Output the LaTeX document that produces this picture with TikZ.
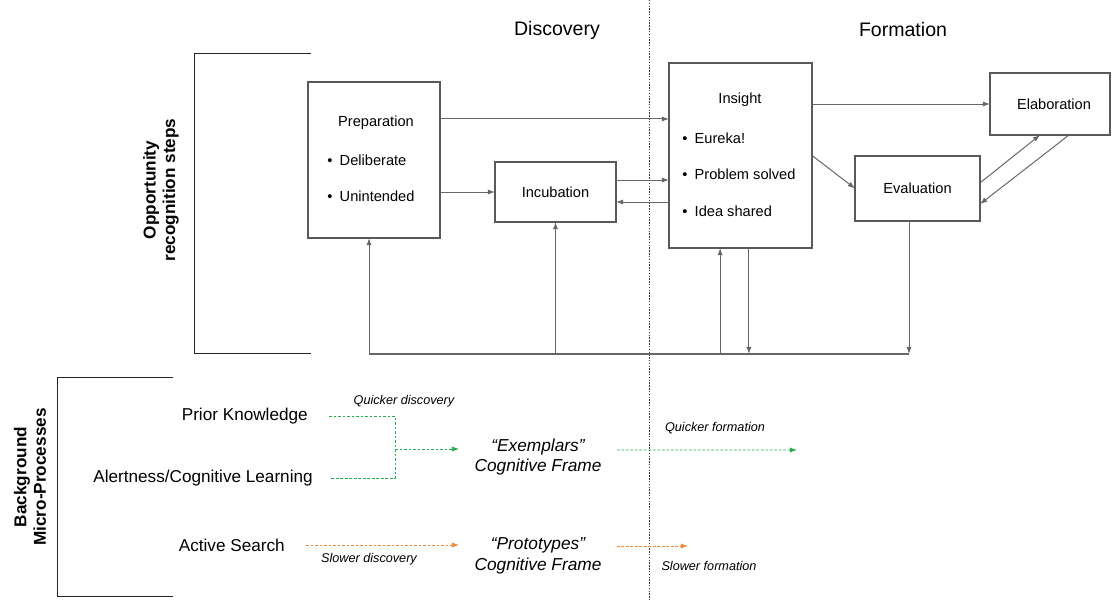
\documentclass[tikz,border=0pt]{standalone}
\usepackage{fontspec}
\setmainfont{Liberation Sans}
\usetikzlibrary{arrows.meta,positioning}

\definecolor{quickgreen}{HTML}{22B04B}
\definecolor{sloworange}{HTML}{F0883A}

\tikzset{
    stepbox/.style={draw=black!65, line width=1pt, rectangle, inner sep=0pt, outer sep=0pt},
    boxtext/.style={font=\fontsize{10.4}{12}\selectfont, inner sep=0pt},
    flow/.style={draw=black!60, line width=0.7pt, -{Latex[length=1.8mm,width=1.3mm]}},
    micro/.style={font=\fontsize{12.2}{14}\selectfont, inner sep=0pt},
    speed/.style={font=\fontsize{9}{11}\selectfont\itshape, inner sep=0pt},
    frame/.style={font=\fontsize{12.3}{14.5}\selectfont\itshape, align=center, inner xsep=0.38cm, inner ysep=0pt},
    quick/.style={draw=quickgreen, line width=0.6pt, dash pattern=on 2pt off 1.2pt},
    slow/.style={draw=sloworange, line width=0.6pt, dash pattern=on 2pt off 1.2pt},
    tip/.style={-{Latex[length=1.8mm,width=1.3mm]}}
}

\begin{document}
\begin{tikzpicture}[x=0.025cm, y=-0.025cm]

    \useasboundingbox (0,0) rectangle (1112,602);

    % divider between the two phases
    \draw[black!80, line width=0.6pt, dash pattern=on 1pt off 1pt] (649,0) -- (649,602);
    \node[font=\fontsize{13.9}{16}\selectfont] (disc) at (557,30) {Discovery};
    \node[font=\fontsize{13.9}{16}\selectfont] (form) at (903,30) {Formation};

    % brackets
    \draw[black!85, line width=0.6pt] (311,53) -- (194,53) -- (194,353) -- (311,353);
    \draw[black!85, line width=0.6pt] (173,377) -- (57,377) -- (57,596) -- (173,596);
    \node[rotate=90, align=center, font=\fontsize{12.2}{14}\selectfont\bfseries] (steps) at (161,190)
        {Opportunity\\recognition steps};
    \node[rotate=90, align=center, font=\fontsize{12.2}{14}\selectfont\bfseries] (bg) at (30,477)
        {Background\\Micro-Processes};

    % opportunity recognition steps
    \node[stepbox, minimum width=3.3cm, minimum height=3.9cm] (prep) at (374,160) {};
    \node[stepbox, minimum width=3.025cm, minimum height=1.5cm] (incub) at (555.5,192) {};
    \node[stepbox, minimum width=3.575cm, minimum height=4.625cm] (ins) at (740.5,155.5) {};
    \node[stepbox, minimum width=3.125cm, minimum height=1.625cm] (eval) at (917.5,188.5) {};
    \node[stepbox, minimum width=3.0cm, minimum height=1.55cm] (elab) at (1050,104) {};

    \node[boxtext] (prepT) at (376,123) {Preparation};
    \node[boxtext, anchor=west] (prepA) at (327,160) {\textbullet\hspace{0.5em}Deliberate};
    \node[boxtext, anchor=west] (prepB) at (327,196) {\textbullet\hspace{0.5em}Unintended};
    \node[boxtext] (incubT) at (555.5,192) {Incubation};
    \node[boxtext] (insT) at (740,100) {Insight};
    \node[boxtext, anchor=west] (insA) at (682,138) {\textbullet\hspace{0.5em}Eureka!};
    \node[boxtext, anchor=west] (insB) at (682,174) {\textbullet\hspace{0.5em}Problem solved};
    \node[boxtext, anchor=west] (insC) at (682,211) {\textbullet\hspace{0.5em}Idea shared};
    \node[boxtext] (evalT) at (917.5,188.5) {Evaluation};
    \node[boxtext] (elabT) at (1054,104) {Elaboration};

    \draw[flow] ([yshift=1.025cm]prep.east) -- ([yshift=1.025cm]prep.east -| ins.west);
    \draw[flow] (incub.west -| prep.east) -- (incub.west);
    \draw[flow] ([yshift=0.3cm]incub.east) -- ([yshift=0.3cm]incub.east -| ins.west);
    \draw[flow] ([yshift=-0.25cm]incub.east -| ins.west) -- ([yshift=-0.25cm]incub.east);
    \draw[flow] (elab.west -| ins.east) -- (elab.west);
    \draw[flow] (ins.east) -- (eval.west);
    \draw[flow] ([yshift=0.14cm]eval.east) -- ([xshift=-0.25cm]elab.south);
    \draw[flow] ([xshift=0.475cm]elab.south) -- ([yshift=-0.39cm]eval.east);

    % feedback bus
    \coordinate (busL) at (369,354);
    \coordinate (busR) at (909,354);
    \draw[black!60, line width=1.3pt] (busL) -- (busR);
    \draw[flow] (busL) -- (busL |- prep.south);
    \draw[flow] (busL -| incub.south) -- (incub.south);
    \draw[flow] ([xshift=-0.51cm]ins.south |- busL) -- ([xshift=-0.51cm]ins.south);
    \draw[flow] ([xshift=0.21cm]ins.south) -- ([xshift=0.21cm]ins.south |- busL);
    \draw[flow] (busR |- eval.south) -- (busR);

    % background micro-processes
    \node[micro, anchor=east] (prior) at (308,416) {Prior Knowledge};
    \node[micro, anchor=east] (alert) at (313,478) {Alertness/Cognitive Learning};
    \node[micro, anchor=east] (search) at (285,545) {Active Search};

    \node[frame] (exem) at (538,457) {``Exemplars''\\Cognitive Frame};
    \node[frame] (proto) at (538,556) {``Prototypes''\\Cognitive Frame};

    \coordinate (join) at (395,449);
    \coordinate (qform) at (797,450);
    \coordinate (sform) at (688,546);

    \draw[quick] ([xshift=0.525cm]prior.east) -| (join |- alert.east) -- ([xshift=0.45cm]alert.east);
    \draw[quick, tip] (join) -- (join -| exem.west);
    \draw[quick, tip] ([yshift=0.175cm]exem.east) -- (qform);
    \draw[slow, tip] ([xshift=0.525cm]search.east) -- (search.east -| proto.west);
    \draw[slow, tip] (sform -| proto.east) -- (sform);

    \node[speed] (qdisc) at (404,401) {Quicker discovery};
    \node[speed] (sdisc) at (369,559) {Slower discovery};
    \node[speed] (qfl) at (715,428) {Quicker formation};
    \node[speed] (sfl) at (709,566) {Slower formation};

\end{tikzpicture}
\end{document}
